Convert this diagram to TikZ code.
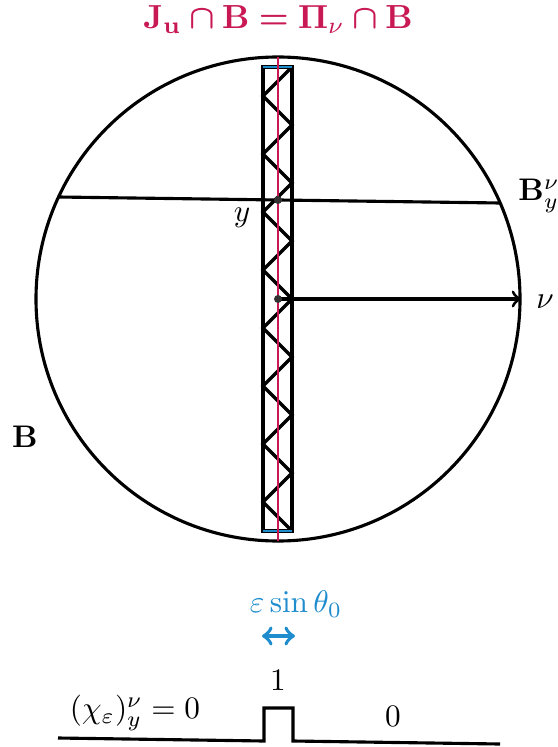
\documentclass[tikz,border=0pt]{standalone}
\usepackage{amsmath,amssymb,bm}
\definecolor{crimsonred}{RGB}{200,25,85}
\definecolor{skyblue}{RGB}{30,140,205}

\begin{document}
\begin{tikzpicture}[x=0.32pt,y=-0.32pt,thickline/.style={line width=1pt}]
        \useasboundingbox (0,0) rectangle (557,747);

        % Ball and its centre
        \coordinate (O) at (278,299);
        \draw[thickline] (O) circle[radius=242];
        \node[text=crimsonred, scale=1.07] (title) at (278,20) {$\mathbf{J}_{\mathbf{u}}\bm{\cap}\mathbf{B}\bm{=}\bm{\Pi}_{\nu}\bm{\cap}\mathbf{B}$};
        \node (ballabel) at (25,437) {$\mathbf{B}$};

        % Strip with zigzag
        \draw[line width=1.1pt] (263,67) rectangle (292,531);
        \draw[line width=1.1pt] (292,67) \foreach \i in {1,...,8} { -- (263,{67+58*\i-29}) -- (292,{67+58*\i}) };
        \draw[skyblue, line width=0.8pt] (263,67) -- (292,67);
        \draw[skyblue, line width=0.8pt] (263,531) -- (292,531);
        \draw[crimsonred, line width=0.7pt] (278,57) -- (278,541);

        % Section through y
        \coordinate (chordL) at (58,197);
        \coordinate (chordR) at (500,203);
        \coordinate (ypt) at (278,200);
        \draw[thickline] (chordL) -- (chordR);
        \fill[black!80] (ypt) circle[radius=4];
        \node (ylabel) at (242,218) {$y$};
        \node (seclabel) at (539,196) {$\mathbf{B}^{\nu}_{y}$};

        % Normal direction
        \coordinate (tip) at (521,299);
        \draw[thickline, ->] (O) -- (tip);
        \fill[black!80] (O) circle[radius=4];
        \node (nulabel) at (545,302) {$\nu$};

        % Width of the strip
        \node[text=skyblue] (width) at (296,604) {$\varepsilon\sin\theta_0$};
        \coordinate (wL) at (262,636);
        \coordinate (wR) at (295,636);
        \draw[skyblue, line width=1.2pt, <->] (wL) -- (wR);

        % Indicator profile
        \node (one) at (278,680) {$1$};
        \draw[thickline] (58,738) -- (264,741) -- (264,708) -- (293,708) -- (293,741) -- (500,744);
        \node (chilabel) at (135,713) {$(\chi_\varepsilon)^{\nu}_{y}=0$};
        \node (zero) at (393,716) {$0$};
\end{tikzpicture}
\end{document}
